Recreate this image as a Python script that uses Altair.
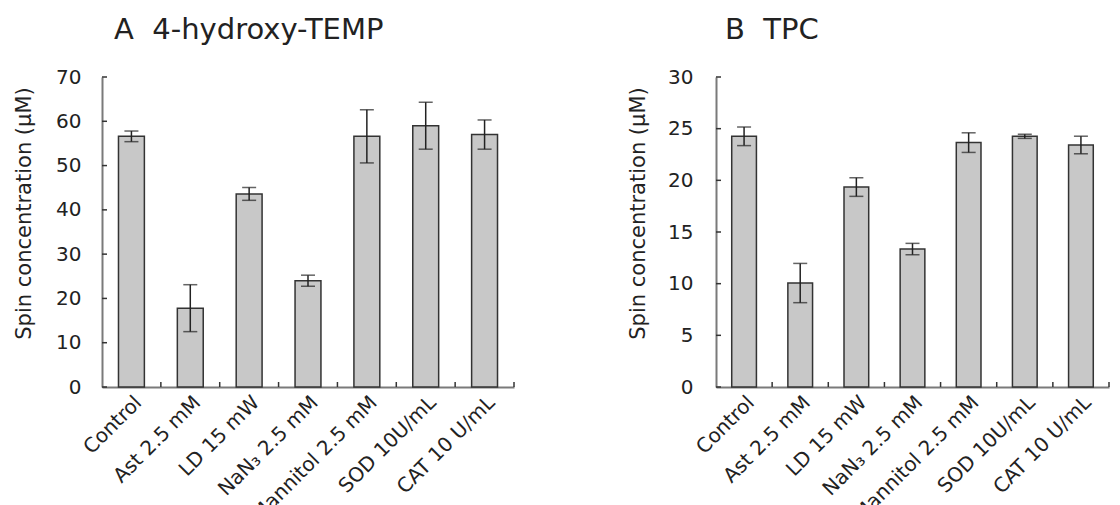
import altair as alt
import pandas as pd

FONT = "DejaVu Sans"

categories = ["Control", "Ast 2.5 mM", "LD 15 mW", "NaN\u2083 2.5 mM",
              "Mannitol 2.5 mM", "SOD 10U/mL", "CAT 10 U/mL"]

a_title = "A\u00a0\u00a04-hydroxy-TEMP"
a_mean = [56.6, 17.8, 43.6, 24.0, 56.6, 59.0, 57.0]
a_err = [1.2, 5.3, 1.45, 1.25, 6.0, 5.3, 3.3]
a_ticks = [0, 10, 20, 30, 40, 50, 60, 70]

b_title = "B\u00a0\u00a0TPC"
b_mean = [24.26, 10.06, 19.35, 13.35, 23.65, 24.26, 23.42]
b_err = [0.9, 1.9, 0.9, 0.55, 0.95, 0.2, 0.85]
b_ticks = [0, 5, 10, 15, 20, 25, 30]

H = 310
DARK = "#222222"
AXC = "#7a7a7a"


def panel(means, errs, ticks, title, title_dx, width, label_pad):
    df = pd.DataFrame({
        "cat": categories,
        "mean": means,
        "lo": [m - e for m, e in zip(means, errs)],
        "hi": [m + e for m, e in zip(means, errs)],
    })
    tdf = pd.DataFrame({"mean": ticks})
    ymax = ticks[-1]
    yscale = alt.Scale(domain=[0, ymax], nice=False)
    xscale = alt.Scale(paddingInner=0, paddingOuter=0)

    x_axis = alt.X("cat:N", sort=categories, title=None, scale=xscale,
                   axis=alt.Axis(labelAngle=-45, labelFontSize=20, labelFont=FONT,
                                 labelColor=DARK, ticks=False, tickSize=0,
                                 domainColor=AXC, domainWidth=2, labelPadding=5,
                                 labelLimit=300))
    x_plain = alt.X("cat:N", sort=categories, scale=xscale)
    y_axis = alt.Axis(values=ticks, grid=False, ticks=False, tickSize=0,
                      domainColor=AXC, domainWidth=2, labelPadding=label_pad,
                      labelFontSize=20, labelFont=FONT, labelColor=DARK,
                      title="Spin concentration (\u03bcM)", titleFontSize=21,
                      titleFont=FONT, titleFontWeight="normal", titleColor=DARK,
                      titleAngle=-90, titleBaseline="top", titleAlign="center",
                      titleX=-89, titleY=136)

    bars = alt.Chart(df).mark_bar(
        fill="#c8c8c8", stroke="#333333", strokeWidth=1.5,
        width=alt.RelativeBandSize(0.44)
    ).encode(
        x=x_axis,
        y=alt.Y("mean:Q", scale=yscale, axis=y_axis),
    )
    rule = alt.Chart(df).mark_rule(color=DARK, strokeWidth=1.5).encode(
        x=x_plain, y=alt.Y("lo:Q", scale=yscale), y2="hi:Q")
    cap_lo = alt.Chart(df).mark_tick(color=DARK, thickness=1.5, size=14,
                                     orient="horizontal").encode(
        x=x_plain, y=alt.Y("lo:Q", scale=yscale))
    cap_hi = alt.Chart(df).mark_tick(color=DARK, thickness=1.5, size=14,
                                     orient="horizontal").encode(
        x=x_plain, y=alt.Y("hi:Q", scale=yscale))
    yt = alt.Chart(tdf).mark_rule(color="#333333", strokeWidth=1.5).encode(
        y=alt.Y("mean:Q", scale=yscale), x=alt.value(0), x2=alt.value(5))
    xt = alt.Chart(df).mark_rule(color="#333333", strokeWidth=1.5).encode(
        x=alt.X("cat:N", sort=categories, scale=xscale, bandPosition=1),
        y=alt.value(H - 5), y2=alt.value(H))

    return alt.layer(bars, rule, cap_lo, cap_hi, yt, xt).properties(
        width=width, height=H,
        title=alt.TitleParams(title, anchor="start", frame="group", fontSize=29,
                              font=FONT, fontWeight="normal", color=DARK,
                              dx=title_dx, offset=22),
    )


chart = alt.hconcat(
    panel(a_mean, a_err, a_ticks, a_title, 12, 412, 21),
    panel(b_mean, b_err, b_ticks, b_title, 9, 393, 23),
    spacing=112,
).configure(font=FONT,
            padding={"left": 5, "top": 8, "right": 0, "bottom": 0}
            ).configure_view(stroke=None)

chart.save("out.html", embed_options={"renderer": "svg", "actions": False})
